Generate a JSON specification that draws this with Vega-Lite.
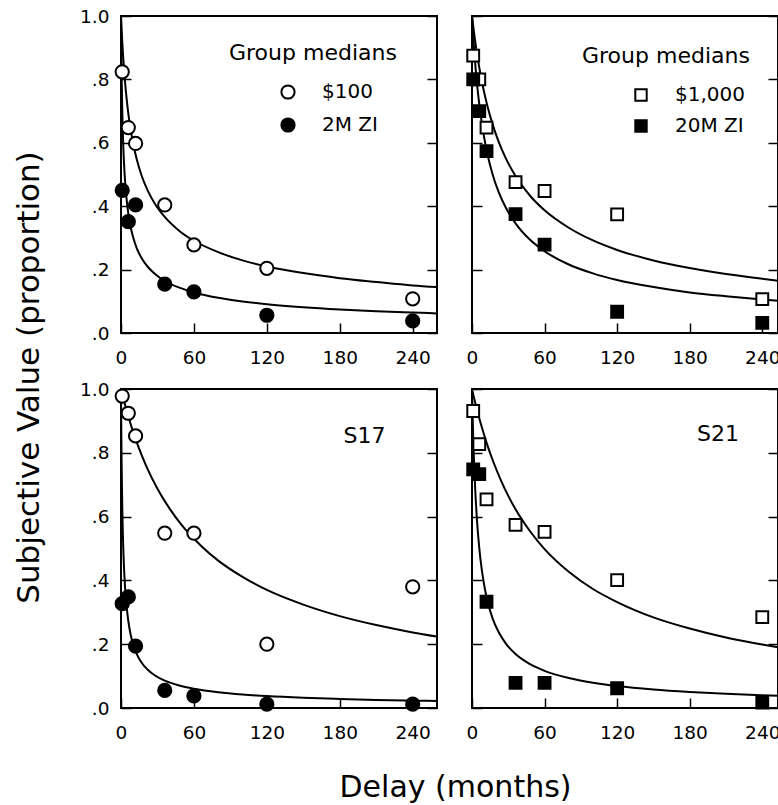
{
  "$schema": "https://vega.github.io/schema/vega-lite/v6.json",
  "background": "white",
  "padding": {"left": 12, "top": 6, "right": 0, "bottom": 0},
  "datasets": {
    "pts": [
      {"p": "TL", "s": "$100", "d": 1, "v": 0.824}, {"p": "TL", "s": "$100", "d": 6, "v": 0.648}, {"p": "TL", "s": "$100", "d": 12, "v": 0.598}, {"p": "TL", "s": "$100", "d": 36, "v": 0.404}, {"p": "TL", "s": "$100", "d": 60, "v": 0.278}, {"p": "TL", "s": "$100", "d": 120, "v": 0.204}, {"p": "TL", "s": "$100", "d": 240, "v": 0.108},
      {"p": "TL", "s": "2M ZI", "d": 1, "v": 0.45}, {"p": "TL", "s": "2M ZI", "d": 6, "v": 0.351}, {"p": "TL", "s": "2M ZI", "d": 12, "v": 0.404}, {"p": "TL", "s": "2M ZI", "d": 36, "v": 0.154}, {"p": "TL", "s": "2M ZI", "d": 60, "v": 0.13}, {"p": "TL", "s": "2M ZI", "d": 120, "v": 0.056}, {"p": "TL", "s": "2M ZI", "d": 240, "v": 0.038},
      {"p": "TR", "s": "$1,000", "d": 1, "v": 0.875}, {"p": "TR", "s": "$1,000", "d": 6, "v": 0.8}, {"p": "TR", "s": "$1,000", "d": 12, "v": 0.648}, {"p": "TR", "s": "$1,000", "d": 36, "v": 0.476}, {"p": "TR", "s": "$1,000", "d": 60, "v": 0.448}, {"p": "TR", "s": "$1,000", "d": 120, "v": 0.374}, {"p": "TR", "s": "$1,000", "d": 240, "v": 0.107},
      {"p": "TR", "s": "20M ZI", "d": 1, "v": 0.8}, {"p": "TR", "s": "20M ZI", "d": 6, "v": 0.7}, {"p": "TR", "s": "20M ZI", "d": 12, "v": 0.574}, {"p": "TR", "s": "20M ZI", "d": 36, "v": 0.375}, {"p": "TR", "s": "20M ZI", "d": 60, "v": 0.279}, {"p": "TR", "s": "20M ZI", "d": 120, "v": 0.067}, {"p": "TR", "s": "20M ZI", "d": 240, "v": 0.032},
      {"p": "BL", "s": "$100", "d": 1, "v": 0.978}, {"p": "BL", "s": "$100", "d": 6, "v": 0.924}, {"p": "BL", "s": "$100", "d": 12, "v": 0.853}, {"p": "BL", "s": "$100", "d": 36, "v": 0.548}, {"p": "BL", "s": "$100", "d": 60, "v": 0.548}, {"p": "BL", "s": "$100", "d": 120, "v": 0.2}, {"p": "BL", "s": "$100", "d": 240, "v": 0.38},
      {"p": "BL", "s": "2M ZI", "d": 1, "v": 0.327}, {"p": "BL", "s": "2M ZI", "d": 6, "v": 0.348}, {"p": "BL", "s": "2M ZI", "d": 12, "v": 0.194}, {"p": "BL", "s": "2M ZI", "d": 36, "v": 0.055}, {"p": "BL", "s": "2M ZI", "d": 60, "v": 0.038}, {"p": "BL", "s": "2M ZI", "d": 120, "v": 0.012}, {"p": "BL", "s": "2M ZI", "d": 240, "v": 0.012},
      {"p": "BR", "s": "$1,000", "d": 1, "v": 0.931}, {"p": "BR", "s": "$1,000", "d": 6, "v": 0.827}, {"p": "BR", "s": "$1,000", "d": 12, "v": 0.654}, {"p": "BR", "s": "$1,000", "d": 36, "v": 0.574}, {"p": "BR", "s": "$1,000", "d": 60, "v": 0.552}, {"p": "BR", "s": "$1,000", "d": 120, "v": 0.401}, {"p": "BR", "s": "$1,000", "d": 240, "v": 0.285},
      {"p": "BR", "s": "20M ZI", "d": 1, "v": 0.748}, {"p": "BR", "s": "20M ZI", "d": 6, "v": 0.733}, {"p": "BR", "s": "20M ZI", "d": 12, "v": 0.333}, {"p": "BR", "s": "20M ZI", "d": 36, "v": 0.079}, {"p": "BR", "s": "20M ZI", "d": 60, "v": 0.079}, {"p": "BR", "s": "20M ZI", "d": 120, "v": 0.062}, {"p": "BR", "s": "20M ZI", "d": 240, "v": 0.017}
    ],
    "fit": [
      {"p": "TL", "s": "$100", "d": 0, "v": 1.0}, {"p": "TL", "s": "$100", "d": 0.5, "v": 0.958}, {"p": "TL", "s": "$100", "d": 1, "v": 0.921}, {"p": "TL", "s": "$100", "d": 2, "v": 0.858}, {"p": "TL", "s": "$100", "d": 3, "v": 0.806}, {"p": "TL", "s": "$100", "d": 4, "v": 0.763}, {"p": "TL", "s": "$100", "d": 6, "v": 0.693}, {"p": "TL", "s": "$100", "d": 8, "v": 0.640}, {"p": "TL", "s": "$100", "d": 10, "v": 0.598}, {"p": "TL", "s": "$100", "d": 13, "v": 0.547}, {"p": "TL", "s": "$100", "d": 17, "v": 0.496}, {"p": "TL", "s": "$100", "d": 22, "v": 0.449}, {"p": "TL", "s": "$100", "d": 28, "v": 0.407}, {"p": "TL", "s": "$100", "d": 36, "v": 0.366}, {"p": "TL", "s": "$100", "d": 48, "v": 0.322}, {"p": "TL", "s": "$100", "d": 60, "v": 0.291}, {"p": "TL", "s": "$100", "d": 80, "v": 0.255}, {"p": "TL", "s": "$100", "d": 100, "v": 0.229}, {"p": "TL", "s": "$100", "d": 120, "v": 0.210}, {"p": "TL", "s": "$100", "d": 150, "v": 0.189}, {"p": "TL", "s": "$100", "d": 180, "v": 0.173}, {"p": "TL", "s": "$100", "d": 210, "v": 0.161}, {"p": "TL", "s": "$100", "d": 240, "v": 0.150}, {"p": "TL", "s": "$100", "d": 260, "v": 0.145},
      {"p": "TL", "s": "2M ZI", "d": 0, "v": 1.0}, {"p": "TL", "s": "2M ZI", "d": 0.25, "v": 0.894}, {"p": "TL", "s": "2M ZI", "d": 0.5, "v": 0.816}, {"p": "TL", "s": "2M ZI", "d": 1, "v": 0.707}, {"p": "TL", "s": "2M ZI", "d": 2, "v": 0.577}, {"p": "TL", "s": "2M ZI", "d": 3, "v": 0.5}, {"p": "TL", "s": "2M ZI", "d": 4, "v": 0.447}, {"p": "TL", "s": "2M ZI", "d": 6, "v": 0.378}, {"p": "TL", "s": "2M ZI", "d": 8, "v": 0.333}, {"p": "TL", "s": "2M ZI", "d": 10, "v": 0.302}, {"p": "TL", "s": "2M ZI", "d": 13, "v": 0.267}, {"p": "TL", "s": "2M ZI", "d": 17, "v": 0.236}, {"p": "TL", "s": "2M ZI", "d": 22, "v": 0.209}, {"p": "TL", "s": "2M ZI", "d": 28, "v": 0.186}, {"p": "TL", "s": "2M ZI", "d": 36, "v": 0.164}, {"p": "TL", "s": "2M ZI", "d": 48, "v": 0.143}, {"p": "TL", "s": "2M ZI", "d": 60, "v": 0.128}, {"p": "TL", "s": "2M ZI", "d": 80, "v": 0.111}, {"p": "TL", "s": "2M ZI", "d": 100, "v": 0.0995}, {"p": "TL", "s": "2M ZI", "d": 120, "v": 0.0909}, {"p": "TL", "s": "2M ZI", "d": 150, "v": 0.0814}, {"p": "TL", "s": "2M ZI", "d": 180, "v": 0.0743}, {"p": "TL", "s": "2M ZI", "d": 210, "v": 0.0688}, {"p": "TL", "s": "2M ZI", "d": 240, "v": 0.0644}, {"p": "TL", "s": "2M ZI", "d": 260, "v": 0.0619},
      {"p": "TR", "s": "$1,000", "d": 0, "v": 1.0}, {"p": "TR", "s": "$1,000", "d": 1, "v": 0.968}, {"p": "TR", "s": "$1,000", "d": 2, "v": 0.938}, {"p": "TR", "s": "$1,000", "d": 4, "v": 0.884}, {"p": "TR", "s": "$1,000", "d": 6, "v": 0.838}, {"p": "TR", "s": "$1,000", "d": 8, "v": 0.797}, {"p": "TR", "s": "$1,000", "d": 10, "v": 0.760}, {"p": "TR", "s": "$1,000", "d": 13, "v": 0.712}, {"p": "TR", "s": "$1,000", "d": 17, "v": 0.659}, {"p": "TR", "s": "$1,000", "d": 22, "v": 0.604}, {"p": "TR", "s": "$1,000", "d": 28, "v": 0.551}, {"p": "TR", "s": "$1,000", "d": 36, "v": 0.495}, {"p": "TR", "s": "$1,000", "d": 48, "v": 0.433}, {"p": "TR", "s": "$1,000", "d": 60, "v": 0.387}, {"p": "TR", "s": "$1,000", "d": 80, "v": 0.332}, {"p": "TR", "s": "$1,000", "d": 100, "v": 0.292}, {"p": "TR", "s": "$1,000", "d": 120, "v": 0.262}, {"p": "TR", "s": "$1,000", "d": 150, "v": 0.229}, {"p": "TR", "s": "$1,000", "d": 180, "v": 0.205}, {"p": "TR", "s": "$1,000", "d": 210, "v": 0.186}, {"p": "TR", "s": "$1,000", "d": 240, "v": 0.171}, {"p": "TR", "s": "$1,000", "d": 253, "v": 0.165},
      {"p": "TR", "s": "20M ZI", "d": 0, "v": 1.0}, {"p": "TR", "s": "20M ZI", "d": 1, "v": 0.936}, {"p": "TR", "s": "20M ZI", "d": 2, "v": 0.881}, {"p": "TR", "s": "20M ZI", "d": 3, "v": 0.834}, {"p": "TR", "s": "20M ZI", "d": 5, "v": 0.755}, {"p": "TR", "s": "20M ZI", "d": 7, "v": 0.692}, {"p": "TR", "s": "20M ZI", "d": 10, "v": 0.618}, {"p": "TR", "s": "20M ZI", "d": 13, "v": 0.560}, {"p": "TR", "s": "20M ZI", "d": 17, "v": 0.501}, {"p": "TR", "s": "20M ZI", "d": 22, "v": 0.445}, {"p": "TR", "s": "20M ZI", "d": 28, "v": 0.395}, {"p": "TR", "s": "20M ZI", "d": 36, "v": 0.346}, {"p": "TR", "s": "20M ZI", "d": 48, "v": 0.294}, {"p": "TR", "s": "20M ZI", "d": 60, "v": 0.258}, {"p": "TR", "s": "20M ZI", "d": 80, "v": 0.216}, {"p": "TR", "s": "20M ZI", "d": 100, "v": 0.188}, {"p": "TR", "s": "20M ZI", "d": 120, "v": 0.167}, {"p": "TR", "s": "20M ZI", "d": 150, "v": 0.145}, {"p": "TR", "s": "20M ZI", "d": 180, "v": 0.128}, {"p": "TR", "s": "20M ZI", "d": 210, "v": 0.116}, {"p": "TR", "s": "20M ZI", "d": 240, "v": 0.106}, {"p": "TR", "s": "20M ZI", "d": 253, "v": 0.102},
      {"p": "BL", "s": "$100", "d": 0, "v": 1.0}, {"p": "BL", "s": "$100", "d": 1, "v": 0.985}, {"p": "BL", "s": "$100", "d": 3, "v": 0.955}, {"p": "BL", "s": "$100", "d": 6, "v": 0.915}, {"p": "BL", "s": "$100", "d": 9, "v": 0.877}, {"p": "BL", "s": "$100", "d": 12, "v": 0.843}, {"p": "BL", "s": "$100", "d": 17, "v": 0.793}, {"p": "BL", "s": "$100", "d": 22, "v": 0.748}, {"p": "BL", "s": "$100", "d": 30, "v": 0.687}, {"p": "BL", "s": "$100", "d": 40, "v": 0.625}, {"p": "BL", "s": "$100", "d": 50, "v": 0.573}, {"p": "BL", "s": "$100", "d": 66, "v": 0.508}, {"p": "BL", "s": "$100", "d": 80, "v": 0.462}, {"p": "BL", "s": "$100", "d": 100, "v": 0.411}, {"p": "BL", "s": "$100", "d": 120, "v": 0.370}, {"p": "BL", "s": "$100", "d": 150, "v": 0.324}, {"p": "BL", "s": "$100", "d": 180, "v": 0.288}, {"p": "BL", "s": "$100", "d": 210, "v": 0.260}, {"p": "BL", "s": "$100", "d": 240, "v": 0.237}, {"p": "BL", "s": "$100", "d": 260, "v": 0.224},
      {"p": "BL", "s": "2M ZI", "d": 0, "v": 1.0}, {"p": "BL", "s": "2M ZI", "d": 0.25, "v": 0.868}, {"p": "BL", "s": "2M ZI", "d": 0.5, "v": 0.771}, {"p": "BL", "s": "2M ZI", "d": 1, "v": 0.638}, {"p": "BL", "s": "2M ZI", "d": 1.5, "v": 0.550}, {"p": "BL", "s": "2M ZI", "d": 2, "v": 0.486}, {"p": "BL", "s": "2M ZI", "d": 3, "v": 0.400}, {"p": "BL", "s": "2M ZI", "d": 4, "v": 0.344}, {"p": "BL", "s": "2M ZI", "d": 6, "v": 0.273}, {"p": "BL", "s": "2M ZI", "d": 8, "v": 0.229}, {"p": "BL", "s": "2M ZI", "d": 10, "v": 0.200}, {"p": "BL", "s": "2M ZI", "d": 13, "v": 0.169}, {"p": "BL", "s": "2M ZI", "d": 17, "v": 0.142}, {"p": "BL", "s": "2M ZI", "d": 22, "v": 0.120}, {"p": "BL", "s": "2M ZI", "d": 28, "v": 0.102}, {"p": "BL", "s": "2M ZI", "d": 36, "v": 0.0858}, {"p": "BL", "s": "2M ZI", "d": 48, "v": 0.0705}, {"p": "BL", "s": "2M ZI", "d": 60, "v": 0.0605}, {"p": "BL", "s": "2M ZI", "d": 80, "v": 0.0496}, {"p": "BL", "s": "2M ZI", "d": 100, "v": 0.0425}, {"p": "BL", "s": "2M ZI", "d": 120, "v": 0.0375}, {"p": "BL", "s": "2M ZI", "d": 150, "v": 0.0321}, {"p": "BL", "s": "2M ZI", "d": 180, "v": 0.0283}, {"p": "BL", "s": "2M ZI", "d": 210, "v": 0.0254}, {"p": "BL", "s": "2M ZI", "d": 240, "v": 0.0231}, {"p": "BL", "s": "2M ZI", "d": 260, "v": 0.0219},
      {"p": "BR", "s": "$1,000", "d": 0, "v": 1.0}, {"p": "BR", "s": "$1,000", "d": 2, "v": 0.967}, {"p": "BR", "s": "$1,000", "d": 4, "v": 0.937}, {"p": "BR", "s": "$1,000", "d": 6, "v": 0.908}, {"p": "BR", "s": "$1,000", "d": 9, "v": 0.869}, {"p": "BR", "s": "$1,000", "d": 12, "v": 0.832}, {"p": "BR", "s": "$1,000", "d": 18, "v": 0.768}, {"p": "BR", "s": "$1,000", "d": 24, "v": 0.713}, {"p": "BR", "s": "$1,000", "d": 30, "v": 0.665}, {"p": "BR", "s": "$1,000", "d": 36, "v": 0.623}, {"p": "BR", "s": "$1,000", "d": 48, "v": 0.554}, {"p": "BR", "s": "$1,000", "d": 60, "v": 0.498}, {"p": "BR", "s": "$1,000", "d": 80, "v": 0.427}, {"p": "BR", "s": "$1,000", "d": 100, "v": 0.373}, {"p": "BR", "s": "$1,000", "d": 120, "v": 0.332}, {"p": "BR", "s": "$1,000", "d": 150, "v": 0.284}, {"p": "BR", "s": "$1,000", "d": 180, "v": 0.249}, {"p": "BR", "s": "$1,000", "d": 210, "v": 0.221}, {"p": "BR", "s": "$1,000", "d": 240, "v": 0.199}, {"p": "BR", "s": "$1,000", "d": 253, "v": 0.190},
      {"p": "BR", "s": "20M ZI", "d": 0, "v": 1.0}, {"p": "BR", "s": "20M ZI", "d": 0.5, "v": 0.917}, {"p": "BR", "s": "20M ZI", "d": 1, "v": 0.849}, {"p": "BR", "s": "20M ZI", "d": 2, "v": 0.740}, {"p": "BR", "s": "20M ZI", "d": 3, "v": 0.659}, {"p": "BR", "s": "20M ZI", "d": 4, "v": 0.595}, {"p": "BR", "s": "20M ZI", "d": 6, "v": 0.502}, {"p": "BR", "s": "20M ZI", "d": 8, "v": 0.436}, {"p": "BR", "s": "20M ZI", "d": 10, "v": 0.387}, {"p": "BR", "s": "20M ZI", "d": 13, "v": 0.332}, {"p": "BR", "s": "20M ZI", "d": 17, "v": 0.281}, {"p": "BR", "s": "20M ZI", "d": 22, "v": 0.238}, {"p": "BR", "s": "20M ZI", "d": 28, "v": 0.202}, {"p": "BR", "s": "20M ZI", "d": 36, "v": 0.169}, {"p": "BR", "s": "20M ZI", "d": 48, "v": 0.1375}, {"p": "BR", "s": "20M ZI", "d": 60, "v": 0.1166}, {"p": "BR", "s": "20M ZI", "d": 80, "v": 0.0939}, {"p": "BR", "s": "20M ZI", "d": 100, "v": 0.0792}, {"p": "BR", "s": "20M ZI", "d": 120, "v": 0.0688}, {"p": "BR", "s": "20M ZI", "d": 150, "v": 0.0579}, {"p": "BR", "s": "20M ZI", "d": 180, "v": 0.0503}, {"p": "BR", "s": "20M ZI", "d": 210, "v": 0.0445}, {"p": "BR", "s": "20M ZI", "d": 240, "v": 0.0401}, {"p": "BR", "s": "20M ZI", "d": 253, "v": 0.0384}
    ]
  },
  "columns": 2,
  "spacing": {"row": 56, "column": 35},
  "bounds": "flush",
  "resolve": {
    "scale": {"x": "independent", "y": "independent", "fill": "independent"},
    "axis": {"x": "independent", "y": "independent"},
    "legend": {"fill": "independent"}
  },
  "concat": [
    {
      "width": 316, "height": 317,
      "resolve": {"axis": {"y": "independent"}},
      "layer": [
        {
          "data": {"name": "fit"},
          "transform": [{"filter": "datum.p == 'TL'"}],
          "mark": {"type": "line", "color": "black", "strokeWidth": 2, "interpolate": "monotone", "clip": true},
          "encoding": {
            "x": {"field": "d", "type": "quantitative", "scale": {"domain": [0, 260], "nice": false, "zero": false}, "axis": {"values": [0, 60, 120, 180, 240], "title": null}},
            "y": {"field": "v", "type": "quantitative", "scale": {"domain": [0, 1], "nice": false}, "axis": {"orient": "right", "labels": false, "values": [0, 0.2, 0.4, 0.6, 0.8, 1], "title": null}},
            "detail": {"field": "s"}
          }
        },
        {
          "data": {"name": "pts"},
          "transform": [{"filter": "datum.p == 'TL'"}],
          "mark": {"type": "point", "shape": "circle", "filled": true, "stroke": "black", "strokeWidth": 2, "size": 175, "opacity": 1},
          "encoding": {
            "x": {"field": "d", "type": "quantitative", "axis": {"values": [0, 60, 120, 180, 240], "title": null}},
            "y": {"field": "v", "type": "quantitative", "axis": {"orient": "left", "values": [0, 0.2, 0.4, 0.6, 0.8, 1], "labelExpr": "datum.value == 1 ? '1.0' : replace(format(datum.value, '.1f'), '0.', '.')", "title": "Subjective Value (proportion)", "titleFontSize": 31, "titleX": -92, "titleY": 361, "titleAngle": 270, "titleAlign": "center", "titleBaseline": "middle"}},
            "fill": {"field": "s", "type": "nominal", "scale": {"domain": ["$100", "2M ZI"], "range": ["white", "black"]},
              "legend": {"orient": "none", "legendX": 108, "legendY": 27, "direction": "vertical", "title": "Group medians", "titlePadding": 17, "rowPadding": 11, "symbolOffset": 49, "labelOffset": 24, "symbolType": "circle", "symbolSize": 175, "padding": 0}}
          }
        }
      ]
    },
    {
      "width": 306, "height": 317,
      "resolve": {"axis": {"y": "independent"}},
      "layer": [
        {
          "data": {"name": "fit"},
          "transform": [{"filter": "datum.p == 'TR'"}],
          "mark": {"type": "line", "color": "black", "strokeWidth": 2, "interpolate": "monotone", "clip": true},
          "encoding": {
            "x": {"field": "d", "type": "quantitative", "scale": {"domain": [0, 253], "nice": false, "zero": false}, "axis": {"values": [0, 60, 120, 180, 240], "title": null}},
            "y": {"field": "v", "type": "quantitative", "scale": {"domain": [0, 1], "nice": false}, "axis": {"orient": "right", "labels": false, "values": [0, 0.2, 0.4, 0.6, 0.8, 1], "title": null}},
            "detail": {"field": "s"}
          }
        },
        {
          "data": {"name": "pts"},
          "transform": [{"filter": "datum.p == 'TR'"}],
          "mark": {"type": "point", "shape": "square", "filled": true, "stroke": "black", "strokeWidth": 2, "size": 140, "opacity": 1},
          "encoding": {
            "x": {"field": "d", "type": "quantitative", "axis": {"values": [0, 60, 120, 180, 240], "title": null}},
            "y": {"field": "v", "type": "quantitative", "axis": {"orient": "left", "labels": false, "values": [0, 0.2, 0.4, 0.6, 0.8, 1], "title": null}},
            "fill": {"field": "s", "type": "nominal", "scale": {"domain": ["$1,000", "20M ZI"], "range": ["white", "black"]},
              "legend": {"orient": "none", "legendX": 110, "legendY": 30, "direction": "vertical", "title": "Group medians", "titlePadding": 17, "rowPadding": 11, "symbolOffset": 49, "labelOffset": 24, "symbolType": "square", "symbolSize": 130, "padding": 0}}
          }
        }
      ]
    },
    {
      "width": 316, "height": 319,
      "resolve": {"axis": {"y": "independent"}},
      "layer": [
        {
          "data": {"name": "fit"},
          "transform": [{"filter": "datum.p == 'BL'"}],
          "mark": {"type": "line", "color": "black", "strokeWidth": 2, "interpolate": "monotone", "clip": true},
          "encoding": {
            "x": {"field": "d", "type": "quantitative", "scale": {"domain": [0, 260], "nice": false, "zero": false}, "axis": {"values": [0, 60, 120, 180, 240], "title": "Delay (months)", "titleX": 334, "titleY": 88, "titleAlign": "center", "titleBaseline": "alphabetic", "titleAngle": 0}},
            "y": {"field": "v", "type": "quantitative", "scale": {"domain": [0, 1], "nice": false}, "axis": {"orient": "right", "labels": false, "values": [0, 0.2, 0.4, 0.6, 0.8, 1], "title": null}},
            "detail": {"field": "s"}
          }
        },
        {
          "data": {"name": "pts"},
          "transform": [{"filter": "datum.p == 'BL'"}],
          "mark": {"type": "point", "shape": "circle", "filled": true, "stroke": "black", "strokeWidth": 2, "size": 175, "opacity": 1},
          "encoding": {
            "x": {"field": "d", "type": "quantitative", "axis": {"values": [0, 60, 120, 180, 240], "title": "Delay (months)", "titleX": 334, "titleY": 88, "titleAlign": "center", "titleBaseline": "alphabetic", "titleAngle": 0}},
            "y": {"field": "v", "type": "quantitative", "axis": {"orient": "left", "values": [0, 0.2, 0.4, 0.6, 0.8, 1], "labelExpr": "datum.value == 1 ? '1.0' : replace(format(datum.value, '.1f'), '0.', '.')", "title": null}},
            "fill": {"field": "s", "type": "nominal", "scale": {"domain": ["$100", "2M ZI"], "range": ["white", "black"]}, "legend": null}
          }
        },
        {
          "data": {"values": [{"label": "S17"}]},
          "mark": {"type": "text", "align": "left", "baseline": "middle", "fontSize": 22, "font": "DejaVu Sans", "color": "black"},
          "encoding": {
            "x": {"datum": 183, "type": "quantitative", "axis": {"values": [0, 60, 120, 180, 240], "title": "Delay (months)", "titleX": 334, "titleY": 88, "titleAlign": "center", "titleBaseline": "alphabetic", "titleAngle": 0}},
            "y": {"datum": 0.853, "type": "quantitative", "axis": null},
            "text": {"field": "label"}
          }
        }
      ]
    },
    {
      "width": 306, "height": 319,
      "resolve": {"axis": {"y": "independent"}},
      "layer": [
        {
          "data": {"name": "fit"},
          "transform": [{"filter": "datum.p == 'BR'"}],
          "mark": {"type": "line", "color": "black", "strokeWidth": 2, "interpolate": "monotone", "clip": true},
          "encoding": {
            "x": {"field": "d", "type": "quantitative", "scale": {"domain": [0, 253], "nice": false, "zero": false}, "axis": {"values": [0, 60, 120, 180, 240], "title": null}},
            "y": {"field": "v", "type": "quantitative", "scale": {"domain": [0, 1], "nice": false}, "axis": {"orient": "right", "labels": false, "values": [0, 0.2, 0.4, 0.6, 0.8, 1], "title": null}},
            "detail": {"field": "s"}
          }
        },
        {
          "data": {"name": "pts"},
          "transform": [{"filter": "datum.p == 'BR'"}],
          "mark": {"type": "point", "shape": "square", "filled": true, "stroke": "black", "strokeWidth": 2, "size": 140, "opacity": 1},
          "encoding": {
            "x": {"field": "d", "type": "quantitative", "axis": {"values": [0, 60, 120, 180, 240], "title": null}},
            "y": {"field": "v", "type": "quantitative", "axis": {"orient": "left", "labels": false, "values": [0, 0.2, 0.4, 0.6, 0.8, 1], "title": null}},
            "fill": {"field": "s", "type": "nominal", "scale": {"domain": ["$1,000", "20M ZI"], "range": ["white", "black"]}, "legend": null}
          }
        },
        {
          "data": {"values": [{"label": "S21"}]},
          "mark": {"type": "text", "align": "left", "baseline": "middle", "fontSize": 22, "font": "DejaVu Sans", "color": "black"},
          "encoding": {
            "x": {"datum": 186, "type": "quantitative", "axis": {"values": [0, 60, 120, 180, 240], "title": null}},
            "y": {"datum": 0.858, "type": "quantitative", "axis": null},
            "text": {"field": "label"}
          }
        }
      ]
    }
  ],
  "config": {
    "font": "DejaVu Sans",
    "view": {"stroke": "black", "strokeWidth": 2},
    "axis": {"grid": false, "domain": false, "ticks": true, "tickColor": "black", "tickWidth": 1.5, "tickSize": -10, "labelFont": "DejaVu Sans", "labelFontSize": 18.5, "labelColor": "black", "labelFlush": false, "labelOverlap": false, "titleFont": "DejaVu Sans", "titleFontSize": 30, "titleFontWeight": "normal", "titleColor": "black"},
    "axisX": {"labelPadding": 25},
    "axisY": {"labelPadding": 22},
    "legend": {"titleFont": "DejaVu Sans", "titleFontSize": 22, "titleFontWeight": "normal", "titleColor": "black", "labelFont": "DejaVu Sans", "labelFontSize": 20, "labelColor": "black", "symbolStrokeColor": "black", "symbolStrokeWidth": 2, "titleLimit": 400, "labelLimit": 300}
  }
}
